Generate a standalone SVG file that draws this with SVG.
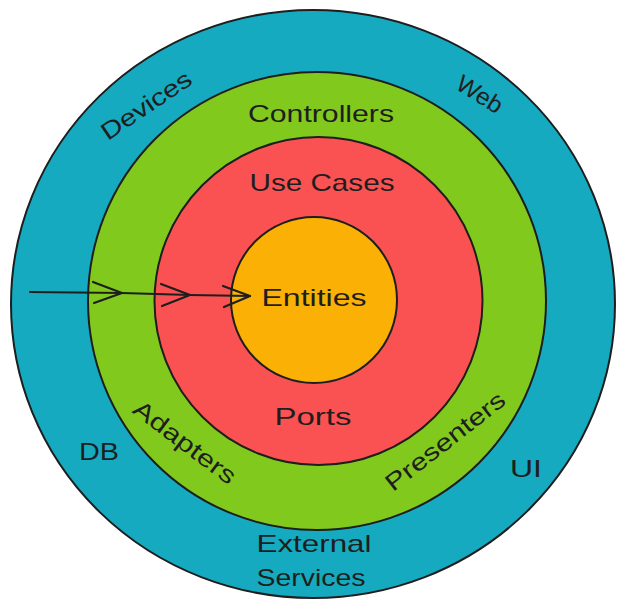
<svg xmlns="http://www.w3.org/2000/svg" width="626" height="609" viewBox="0 0 626 609">
<defs>
<style>
.ring{stroke:#1e1e1e;stroke-width:2}
.lbl{font-family:"Liberation Sans","DejaVu Sans",sans-serif;font-size:24px;fill:#1e1e1e;text-anchor:middle;dominant-baseline:central}
.arr{fill:none;stroke:#1e1e1e;stroke-width:2.2;stroke-linecap:round;stroke-linejoin:round}
</style>
</defs>
<rect width="626" height="609" fill="#ffffff"/>
<g id="frameworks">
<ellipse class="ring" cx="313" cy="304" rx="302" ry="294" fill="#15aabf"/>
<text class="lbl" transform="translate(146,105) rotate(-34)" textLength="104" lengthAdjust="spacingAndGlyphs">Devices</text>
<text class="lbl" transform="translate(480,94) rotate(32)" textLength="50" lengthAdjust="spacingAndGlyphs">Web</text>
<text class="lbl" x="99" y="451" textLength="40" lengthAdjust="spacingAndGlyphs">DB</text>
<text class="lbl" x="526" y="468" textLength="32" lengthAdjust="spacingAndGlyphs">UI</text>
<text class="lbl" x="314" y="543" textLength="115" lengthAdjust="spacingAndGlyphs">External</text>
<text class="lbl" x="311" y="577" textLength="109" lengthAdjust="spacingAndGlyphs">Services</text>
</g>
<g id="adapters">
<circle class="ring" cx="317" cy="301" r="229" fill="#82c91e"/>
<text class="lbl" x="321" y="113" textLength="146" lengthAdjust="spacingAndGlyphs">Controllers</text>
<text class="lbl" transform="translate(185,442) rotate(37)" textLength="122" lengthAdjust="spacingAndGlyphs">Adapters</text>
<text class="lbl" transform="translate(445,441) rotate(-38)" textLength="145" lengthAdjust="spacingAndGlyphs">Presenters</text>
</g>
<g id="usecases">
<circle class="ring" cx="318.5" cy="301" r="164" fill="#fa5252"/>
<text class="lbl" x="322" y="182" textLength="145" lengthAdjust="spacingAndGlyphs">Use Cases</text>
<text class="lbl" x="313" y="416" textLength="77" lengthAdjust="spacingAndGlyphs">Ports</text>
</g>
<g id="entities">
<circle class="ring" cx="314" cy="300" r="83" fill="#fab005"/>
<text class="lbl" x="314" y="297" textLength="105" lengthAdjust="spacingAndGlyphs">Entities</text>
</g>
<g id="connectors">
<path class="arr" d="M30,292 L122,293 L190,295 L250,296"/>
<path class="arr" d="M93,282 L122,293 L94,303"/>
<path class="arr" d="M161,284 L190,295 L162,306"/>
<path class="arr" d="M223,286 L250,296 L224,307"/>
</g>
</svg>
